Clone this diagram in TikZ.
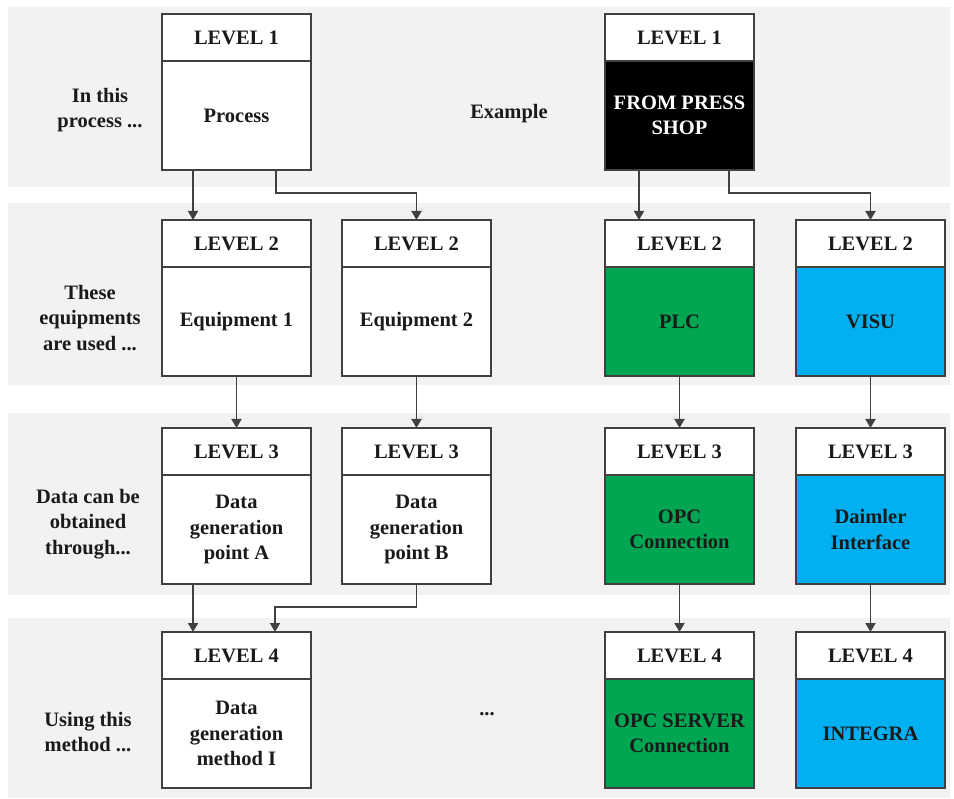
\documentclass[tikz,border=0pt]{standalone}
\usepackage{fontspec}
\setmainfont{Liberation Serif}
\usetikzlibrary{positioning,calc,arrows.meta}

\definecolor{band}{HTML}{F2F2F2}
\definecolor{edge}{HTML}{404040}
\definecolor{plcgreen}{HTML}{00A651}
\definecolor{visublue}{HTML}{00B0F0}
\definecolor{ink}{HTML}{1A1A1A}

\tikzset{
  txt/.style={font=\fontsize{20.5}{25.5}\selectfont\bfseries, text=ink, align=center},
  head/.style={txt, draw=edge, line width=2pt, fill=white, outer sep=0pt,
    minimum width=149pt, minimum height=47pt, inner sep=0pt, anchor=north west},
  body/.style={txt, draw=edge, line width=2pt, fill=white, outer sep=0pt,
    minimum width=149pt, minimum height=109pt, inner sep=0pt, below=0pt of #1},
  sidelabel/.style={txt},
  arr/.style={draw=edge, line width=1.9pt, -{Triangle[length=9pt,width=10pt]}},
}

\begin{document}
\begin{tikzpicture}[x=1pt,y=-1pt]
\useasboundingbox (0,0) rectangle (954,799);

% background bands, one per level
\fill[band] (8,7)   rectangle (950,187);
\fill[band] (8,203) rectangle (950,385);
\fill[band] (8,413) rectangle (950,595);
\fill[band] (8,618) rectangle (950,798);

% row captions
\node[sidelabel] (cap1) at (100,110) {In this\\process ...};
\node[sidelabel] (cap2) at (90,318) {These\\equipments\\are used ...};
\node[sidelabel] (cap3) at (88,524) {Data can be\\obtained\\through...};
\node[sidelabel] (cap4) at (88,732) {Using this\\method ...};
\node[sidelabel] (example) at (509,114) {Example};
\node[sidelabel] (more) at (487,714) {...};

% generic hierarchy
\node[head] (a1h) at (162,14) {LEVEL 1};
\node[body=a1h] (a1b) {Process};

\node[head] (a2h) at (162,220) {LEVEL 2};
\node[body=a2h] (a2b) {Equipment 1};
\node[head] (b2h) at (342,220) {LEVEL 2};
\node[body=b2h] (b2b) {Equipment 2};

\node[head] (a3h) at (162,428) {LEVEL 3};
\node[body=a3h] (a3b) {Data\\generation\\point A};
\node[head] (b3h) at (342,428) {LEVEL 3};
\node[body=b3h] (b3b) {Data\\generation\\point B};

\node[head] (a4h) at (162,632) {LEVEL 4};
\node[body=a4h] (a4b) {Data\\generation\\method I};

% worked example
\node[head] (c1h) at (605,14) {LEVEL 1};
\node[body=c1h, fill=black, text=white] (c1b) {FROM PRESS\\SHOP};

\node[head] (c2h) at (605,220) {LEVEL 2};
\node[body=c2h, fill=plcgreen] (c2b) {PLC};
\node[head] (d2h) at (796,220) {LEVEL 2};
\node[body=d2h, fill=visublue] (d2b) {VISU};

\node[head] (c3h) at (605,428) {LEVEL 3};
\node[body=c3h, fill=plcgreen] (c3b) {OPC\\Connection};
\node[head] (d3h) at (796,428) {LEVEL 3};
\node[body=d3h, fill=visublue] (d3b) {Daimler\\Interface};

\node[head] (c4h) at (605,632) {LEVEL 4};
\node[body=c4h, fill=plcgreen] (c4b) {OPC SERVER\\Connection};
\node[head] (d4h) at (796,632) {LEVEL 4};
\node[body=d4h, fill=visublue] (d4b) {INTEGRA};

% connector start points off the box centres
\coordinate (s1) at ($(a1b.south west)+(31,0)$);
\coordinate (s2) at ($(a1b.south west)+(114,0)$);
\coordinate (s3) at ($(a3b.south west)+(31,0)$);
\coordinate (t4) at ($(a4h.north west)+(113,0)$);
\coordinate (s5) at ($(c1b.south west)+(34,0)$);
\coordinate (s6) at ($(c1b.south west)+(124,0)$);

% connectors, generic side
\draw[arr] (s1) -- (s1 |- a2h.north);
\draw[arr] (s2) |- ($(b2h.north)+(0,-27)$) -- (b2h.north);
\draw[arr] (a2b.south) -- (a3h.north);
\draw[arr] (b2b.south) -- (b3h.north);
\draw[arr] (s3) -- (s3 |- a4h.north);
\draw[arr] (b3b.south) |- ($(t4)+(0,-25)$) -- (t4);

% connectors, example side
\draw[arr] (s5) -- (s5 |- c2h.north);
\draw[arr] (s6) |- ($(d2h.north)+(0,-27)$) -- (d2h.north);
\draw[arr] (c2b.south) -- (c3h.north);
\draw[arr] (d2b.south) -- (d3h.north);
\draw[arr] (c3b.south) -- (c4h.north);
\draw[arr] (d3b.south) -- (d4h.north);
\end{tikzpicture}
\end{document}
